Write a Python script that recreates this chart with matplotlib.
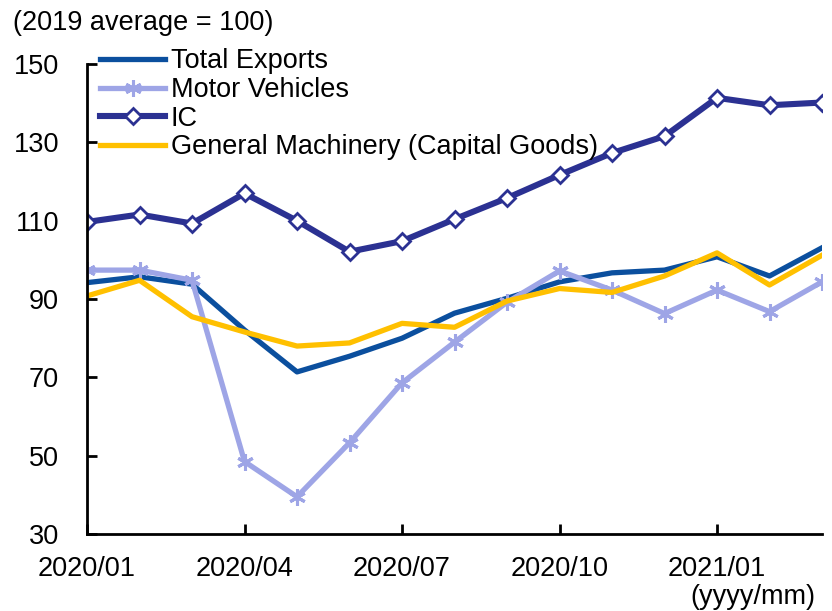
import matplotlib.pyplot as plt

plt.rcParams['font.family'] = ['Liberation Sans', 'DejaVu Sans']

# months 2020/01 .. 2021/03
months = ["2020/01", "2020/02", "2020/03", "2020/04", "2020/05", "2020/06", "2020/07",
          "2020/08", "2020/09", "2020/10", "2020/11", "2020/12", "2021/01", "2021/02", "2021/03"]

total_exports = [94.2, 95.7, 93.8, 82.1, 71.4, 75.4, 80.0, 86.4, 90.2, 94.4, 96.7, 97.4, 100.8, 95.9, 103.1]
motor_vehicles = [97.4, 97.4, 94.8, 48.5, 39.5, 53.3, 68.6, 79.0, 89.2, 97.2, 92.3, 86.3, 92.3, 86.8, 94.4]
ic = [109.7, 111.6, 109.3, 117.0, 110.0, 102.1, 104.8, 110.4, 115.8, 121.7, 127.3, 131.6, 141.4, 139.5, 140.2]
general_machinery = [90.8, 94.8, 85.5, 81.6, 78.0, 78.8, 83.8, 82.8, 89.5, 92.7, 91.7, 95.9, 101.8, 93.6, 101.2]

tick_idx = [0, 3, 6, 9, 12]

x = list(range(len(months)))

fig = plt.figure(figsize=(8.32, 6.11), dpi=100)
ax = fig.add_axes([0.1046, 0.126, 0.8834, 0.769])

ax.plot(x, total_exports, color='#0B4F9E', lw=3.8, label='Total Exports')
ax.plot(x, motor_vehicles, color='#9EA5E6', lw=3.8, marker=(6, 2, 0), markersize=12,
        markeredgewidth=2.2, label='Motor Vehicles')
ax.plot(x, ic, color='#2B3192', lw=4.4, marker='D', markersize=8.5, markerfacecolor='white',
        markeredgecolor='#2B3192', markeredgewidth=2, label='IC')
ax.plot(x, general_machinery, color='#FFC000', lw=3.8, label='General Machinery (Capital Goods)')

ax.set_xlim(0, len(months) - 1)
ax.set_ylim(30, 150)
ax.set_yticks(range(30, 151, 20))
ax.set_xticks(tick_idx)
ax.set_xticklabels([months[i] for i in tick_idx])

for s in ['top', 'right']:
    ax.spines[s].set_visible(False)
for s in ['left', 'bottom']:
    ax.spines[s].set_linewidth(2)
ax.tick_params(direction='in', width=2, length=7, labelsize=19.5)
ax.tick_params(axis='x', pad=16)
ax.tick_params(axis='y', pad=20)

ax.legend(loc='upper left', bbox_to_anchor=(-0.008, 1.074), frameon=False, fontsize=19.5,
          handlelength=2.4, handletextpad=0.2, labelspacing=0.1, borderaxespad=0.3)

fig.text(0.016, 0.963, "(2019 average = 100)", fontsize=19.5, va='center', ha='left')
fig.text(0.98, 0.023, "(yyyy/mm)", fontsize=19.5, va='center', ha='right')

fig.savefig('out.png', dpi=100)
